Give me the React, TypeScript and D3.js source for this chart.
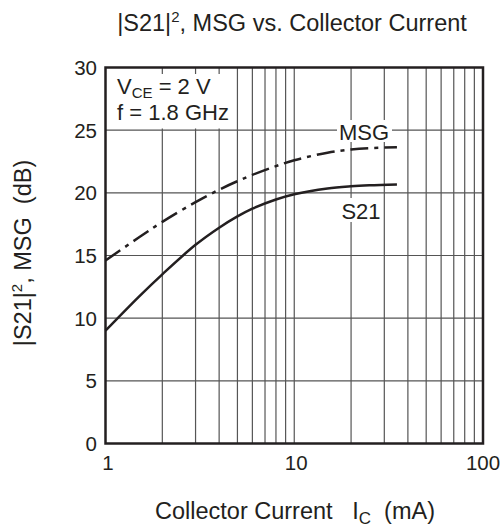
import React from "react";
import * as d3 from "d3";

const currentMA = [1, 1.5, 2, 3, 4, 5, 6, 8, 10, 15, 20, 25, 35];
const s21dB = [9.0, 11.7, 13.5, 15.85, 17.22, 18.12, 18.74, 19.47, 19.89, 20.35, 20.52, 20.6, 20.67];
const msgCurrentMA = [1, 1.5, 2, 3, 4, 5, 6, 8, 10, 15, 20, 25, 35];
const msgdB = [14.6, 16.43, 17.68, 19.26, 20.25, 20.93, 21.43, 22.13, 22.6, 23.2, 23.46, 23.57, 23.63];
const xTickLabels = [1, 10, 100];
const yTicks = [0, 5, 10, 15, 20, 25, 30];
const xGrid = [2, 3, 4, 5, 6, 7, 8, 9, 10, 20, 30, 40, 50, 60, 70, 80, 90];

const W = 504;
const H = 530;
const L = 105.5, R = 483, T = 67.5, B = 443.5;
const FONT = "'Liberation Sans', Arial, Helvetica, sans-serif";
const INK = "#231f20";

export default function App() {
  const x = d3.scaleLog().domain([1, 100]).range([L, R]);
  const y = d3.scaleLinear().domain([0, 30]).range([B, T]);
  const line = d3
    .line<[number, number]>()
    .x((d) => x(d[0]))
    .y((d) => y(d[1]))
    .curve(d3.curveCatmullRom.alpha(0.5));
  const s21Path = line(currentMA.map((c, i) => [c, s21dB[i]] as [number, number])) || "";
  const msgPath = line(msgCurrentMA.map((c, i) => [c, msgdB[i]] as [number, number])) || "";
  const gridColor = "#555";

  return (
    <svg
      width={W}
      height={H}
      style={{ position: "absolute", left: 0, top: 0, background: "#fff" }}
      fontFamily={FONT}
    >
      <rect x={0} y={0} width={W} height={H} fill="#fff" />
      {/* title */}
      <text x={292} y={31} textAnchor="middle" fontSize={23.5} fill={INK}>
        |S21|<tspan dy={-9} fontSize={15}>2</tspan>
        <tspan dy={9}>, MSG vs. Collector Current</tspan>
      </text>

      {/* grid */}
      {xGrid.map((g) => (
        <line key={"xg" + g} x1={x(g)} x2={x(g)} y1={T} y2={B} stroke={gridColor} strokeWidth={1.2} />
      ))}
      {yTicks.slice(1, -1).map((g) => (
        <line key={"yg" + g} x1={L} x2={R} y1={y(g)} y2={y(g)} stroke={gridColor} strokeWidth={1.2} />
      ))}

      {/* legend box */}
      <rect x={L + 1} y={74} width={123} height={54.5} fill="#fff" />
      <text x={117} y={94} fontSize={22} fill={INK}>
        V<tspan dy={4} fontSize={15}>CE</tspan>
        <tspan dy={-4}> = 2 V</tspan>
      </text>
      <text x={117} y={120} fontSize={22} fill={INK}>
        f = 1.8 GHz
      </text>

      {/* label backgrounds */}
      <rect x={337} y={120} width={55} height={22} fill="#fff" />
      <rect x={340} y={198} width={42} height={24} fill="#fff" />

      {/* curves */}
      <path d={msgPath} fill="none" stroke={INK} strokeWidth={2.5} strokeDasharray="18 6 4 6" />
      <path d={s21Path} fill="none" stroke={INK} strokeWidth={2.5} />

      <text x={364} y={139.5} textAnchor="middle" fontSize={22} fill={INK}>
        MSG
      </text>
      <text x={361} y={219} textAnchor="middle" fontSize={22} fill={INK}>
        S21
      </text>

      {/* frame */}
      <rect x={L} y={T} width={R - L} height={B - T} fill="none" stroke={INK} strokeWidth={2.5} />

      {/* y ticks */}
      {yTicks.map((t) => (
        <text key={"yt" + t} x={97} y={y(t) + 7.5} textAnchor="end" fontSize={20.5} fill={INK}>
          {t}
        </text>
      ))}
      {/* x ticks */}
      {xTickLabels.map((t) => (
        <text key={"xt" + t} x={x(t) + (t === 1 ? 2.5 : t === 100 ? 0 : 2)} y={470} textAnchor="middle" fontSize={20.5} fill={INK}>
          {t}
        </text>
      ))}

      {/* x title */}
      <text x={295} y={519} textAnchor="middle" fontSize={23.5} fill={INK}>
        Collector Current{"\u00a0\u00a0\u00a0"}I<tspan dy={5} fontSize={17}>C</tspan>
        <tspan dy={-5}>{"\u00a0\u00a0"}(mA)</tspan>
      </text>

      {/* y title */}
      <text
        transform={`translate(31, 253) rotate(-90)`}
        textAnchor="middle"
        fontSize={23.5}
        fill={INK}
      >
        |S21|<tspan dy={-9} fontSize={15}>2</tspan>
        <tspan dy={9}>, MSG{"\u00a0\u00a0"}(dB)</tspan>
      </text>
    </svg>
  );
}
